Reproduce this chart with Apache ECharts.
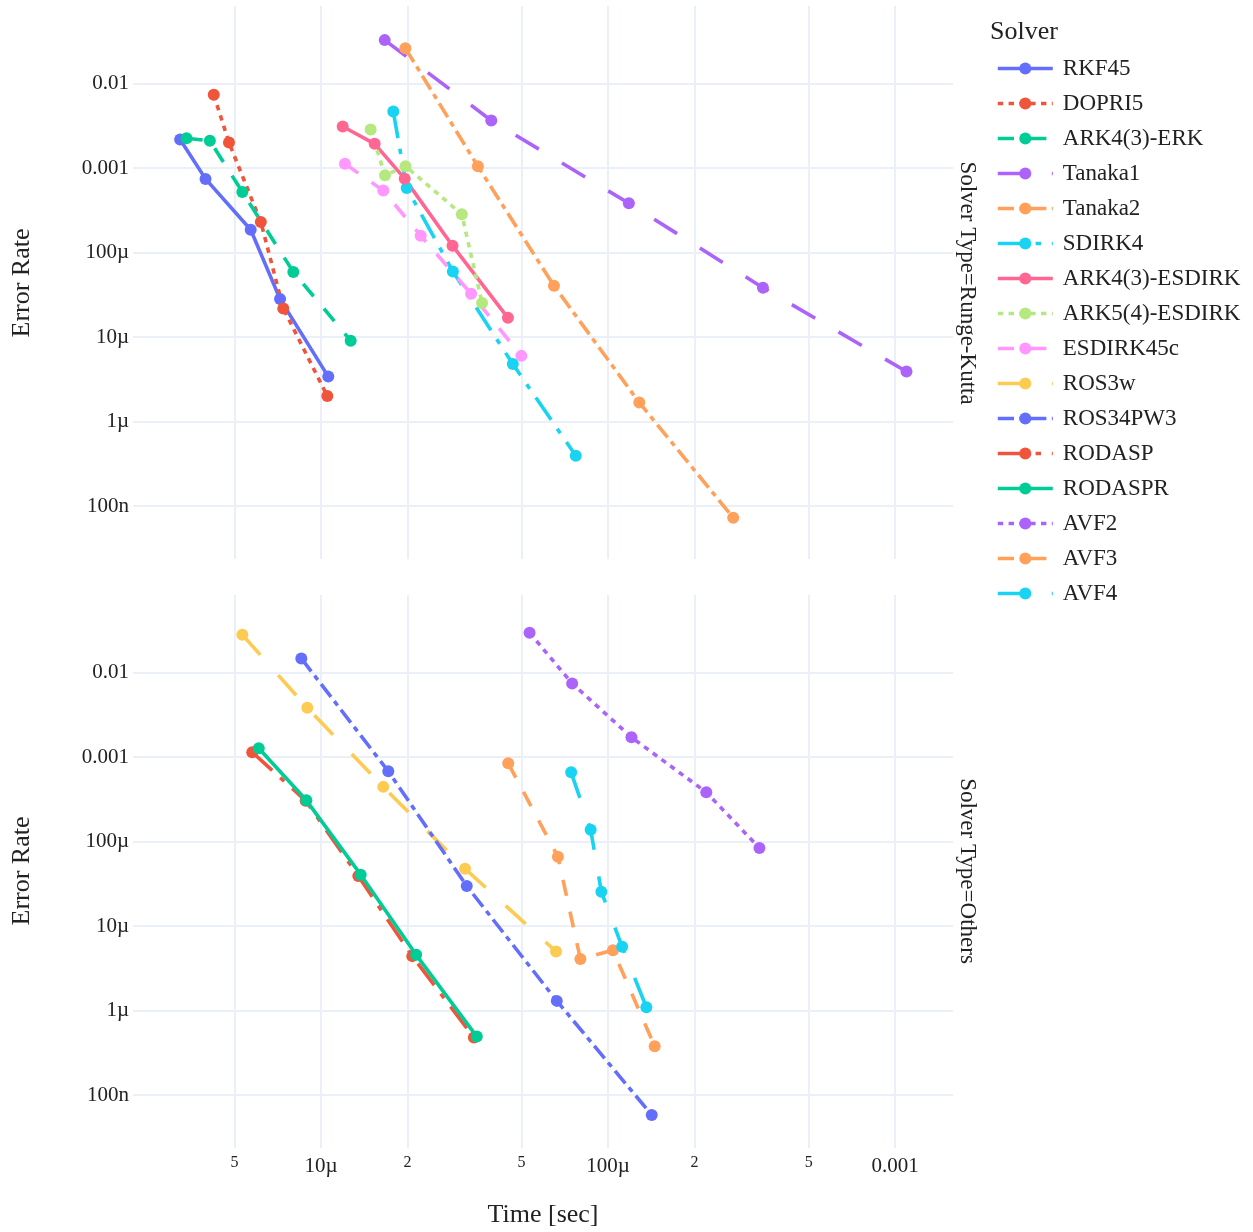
<!DOCTYPE html>
<html><head><meta charset="utf-8">
<script src="https://cdn.jsdelivr.net/npm/echarts@6/dist/echarts.min.js"></script>
<style>html,body{margin:0;padding:0;background:#fff}#c{width:1253px;height:1232px}</style>
</head><body><div id="c"></div>
<script>
// ---------- data ----------
const solverNames = ['RKF45','DOPRI5','ARK4(3)-ERK','Tanaka1','Tanaka2','SDIRK4','ARK4(3)-ESDIRK','ARK5(4)-ESDIRK','ESDIRK45c','ROS3w','ROS34PW3','RODASP','RODASPR','AVF2','AVF3','AVF4'];
const solverPanel = [0,0,0,0,0,0,0,0,0,1,1,1,1,1,1,1]; // 0 = Runge-Kutta, 1 = Others
const panelTitles = ['Solver Type=Runge-Kutta','Solver Type=Others'];

// [time (sec), error rate]
const RKF45 = [[3.23e-6,2.17e-3],[3.96e-6,7.43e-4],[5.69e-6,1.86e-4],[7.20e-6,2.81e-5],[1.06e-5,3.40e-6]];
const DOPRI5 = [[4.23e-6,7.34e-3],[4.78e-6,2.00e-3],[6.17e-6,2.30e-4],[7.39e-6,2.18e-5],[1.052e-5,2.0e-6]];
const ARK43ERK = [[3.40e-6,2.25e-3],[4.10e-6,2.10e-3],[5.32e-6,5.21e-4],[8.01e-6,5.88e-5],[1.269e-5,9.02e-6]];
const Tanaka1 = [[1.667e-5,3.26e-2],[3.92e-5,3.65e-3],[1.182e-4,3.82e-4],[3.465e-4,3.83e-5],[1.096e-3,3.90e-6]];
const Tanaka2 = [[1.967e-5,2.62e-2],[3.52e-5,1.047e-3],[6.48e-5,4.04e-5],[1.285e-4,1.675e-6],[2.73e-4,7.26e-8]];
const SDIRK4 = [[1.786e-5,4.66e-3],[1.989e-5,5.81e-4],[2.88e-5,5.97e-5],[4.66e-5,4.78e-6],[7.72e-5,3.94e-7]];
const ARK43ESDIRK = [[1.19e-5,3.10e-3],[1.538e-5,1.93e-3],[1.957e-5,7.48e-4],[2.872e-5,1.204e-4],[4.48e-5,1.687e-5]];
const ARK54ESDIRK = [[1.489e-5,2.85e-3],[1.671e-5,8.19e-4],[1.97e-5,1.047e-3],[3.094e-5,2.83e-4],[3.64e-5,2.52e-5]];
const ESDIRK45c = [[1.212e-5,1.12e-3],[1.648e-5,5.40e-4],[2.225e-5,1.58e-4],[3.334e-5,3.25e-5],[4.99e-5,5.98e-6]];
const ROS3w = [[5.32e-6,2.797e-2],[8.96e-6,3.82e-3],[1.648e-5,4.43e-4],[3.175e-5,4.77e-5],[6.59e-5,4.99e-6]];
const ROS34PW3 = [[8.54e-6,1.466e-2],[1.716e-5,6.78e-4],[3.22e-5,2.97e-5],[6.63e-5,1.30e-6],[1.42e-4,5.80e-8]];
const RODASP = [[5.76e-6,1.138e-3],[8.84e-6,3.04e-4],[1.349e-5,3.90e-5],[2.08e-5,4.40e-6],[3.41e-5,4.78e-7]];
const RODASPR = [[6.07e-6,1.268e-3],[8.89e-6,3.07e-4],[1.375e-5,4.05e-5],[2.145e-5,4.56e-6],[3.49e-5,4.91e-7]];
const AVF2 = [[5.33e-5,2.953e-2],[7.50e-5,7.41e-3],[1.207e-4,1.71e-3],[2.20e-4,3.82e-4],[3.37e-4,8.37e-5]];
const AVF3 = [[4.49e-5,8.42e-4],[6.69e-5,6.61e-5],[8.01e-5,4.08e-6],[1.04e-4,5.18e-6],[1.454e-4,3.78e-7]];
const AVF4 = [[7.44e-5,6.59e-4],[8.70e-5,1.38e-4],[9.48e-5,2.54e-5],[1.12e-4,5.68e-6],[1.36e-4,1.094e-6]];
const solverData = [RKF45,DOPRI5,ARK43ERK,Tanaka1,Tanaka2,SDIRK4,ARK43ESDIRK,ARK54ESDIRK,ESDIRK45c,ROS3w,ROS34PW3,RODASP,RODASPR,AVF2,AVF3,AVF4];

// tick labels
const xTickValues = [5e-6,1e-5,2e-5,5e-5,1e-4,2e-4,5e-4,1e-3];
const xTickLabels = ['5','10µ','2','5','100µ','2','5','0.001'];
const xTickMajor = [false,true,false,false,true,false,false,true];
const yTickValues = [1e-7,1e-6,1e-5,1e-4,1e-3,1e-2];
const yTickLabels = ['100n','1µ','10µ','100µ','0.001','0.01'];
const xRange = [2.213e-6, 1.592e-3];
const yRange = [2.36e-8, 8.26e-2];

// ---------- styles ----------
const colors = ['#636EFA','#EF553B','#00CC96','#AB63FA','#FFA15A','#19D3F3','#FF6692','#B6E880','#FF97FF','#FECB52','#636EFA','#EF553B','#00CC96','#AB63FA','#FFA15A','#19D3F3'];
const dashNames = ['solid','dot','dash','longdash','dashdot','longdashdot','solid','dot','dash','longdash','dashdot','longdashdot','solid','dot','dash','longdash'];
const d = 5.4;
const dashMap = {solid:'solid', dot:[d,d], dash:[3*d,3*d], longdash:[5*d,5*d], dashdot:[3*d,d,d,d], longdashdot:[5*d,2*d,d,2*d]};
const FONT = '"Liberation Serif", "Times New Roman", serif';
const TXT = '#222';
const GRIDC = '#EBF0F8';

const lg = Math.log10;
const xTickLog = xTickValues.map(lg);
const yTickLog = yTickValues.map(lg);
function findIdx(arr, v){ for (let i=0;i<arr.length;i++){ if (Math.abs(arr[i]-v) < 1e-6) return i; } return -1; }

const grids = [
  {left:133, width:820, top:6, height:553},
  {left:133, width:820, top:595, height:553}
];
const xAxes = [0,1].map(g => ({
  gridIndex:g, type:'value', min:lg(xRange[0]), max:lg(xRange[1]),
  axisLine:{show:false},
  axisTick:{show:false, customValues:xTickLog},
  splitLine:{show:true, lineStyle:{color:GRIDC, width:2}},
  axisLabel:{show:g===1, customValues:xTickLog, margin:7,
    formatter: v => { const i = findIdx(xTickLog, v); if (i<0) return ''; return xTickMajor[i] ? '{a|'+xTickLabels[i]+'}' : '{b|'+xTickLabels[i]+'}'; },
    rich:{a:{fontFamily:FONT, fontSize:21, lineHeight:22, color:TXT}, b:{fontFamily:FONT, fontSize:16, lineHeight:15, color:TXT}}
  }
}));
const yAxes = [0,1].map(g => ({
  gridIndex:g, type:'value', min:lg(yRange[0]), max:lg(yRange[1]),
  axisLine:{show:false},
  axisTick:{show:false, customValues:yTickLog},
  splitLine:{show:true, lineStyle:{color:GRIDC, width:2}},
  axisLabel:{show:true, customValues:yTickLog, margin:4, fontFamily:FONT, fontSize:21, color:TXT,
    formatter: v => { const i = findIdx(yTickLog, v); return i<0 ? '' : yTickLabels[i]; }
  }
}));

const series = solverNames.map((name, i) => ({
  name, type:'line', xAxisIndex:solverPanel[i], yAxisIndex:solverPanel[i],
  data: solverData[i].map(p => [lg(p[0]), lg(p[1])]),
  symbol:'circle', symbolSize:12, showSymbol:true,
  color: colors[i],
  itemStyle:{color:colors[i]},
  lineStyle:{color:colors[i], width:3.6, type:dashMap[dashNames[i]]},
  emphasis:{disabled:true},
  clip:false
}));

function gtext(text, x, y, size, rot){
  return {type:'text', x, y, rotation:rot||0, silent:true,
    style:{text, fontFamily:FONT, fontSize:size, fill:TXT, align:'center', verticalAlign:'middle', textAlign:'center', textVerticalAlign:'middle'}};
}

const option = {
  animation:false,
  backgroundColor:'#fff',
  grid:grids, xAxis:xAxes, yAxis:yAxes, series,
  legend:{
    orient:'vertical', left:996, top:57, padding:0, itemWidth:55, itemHeight:15, itemGap:12,
    selectedMode:false, data:solverNames,
    lineStyle:{width:'inherit'},
    textStyle:{fontFamily:FONT, fontSize:23, color:TXT, lineHeight:22, padding:[0,0,0,5]}
  },
  graphic:[
    gtext('Error Rate', 22, 283, 26, Math.PI/2),
    gtext('Error Rate', 22, 871, 26, Math.PI/2),
    gtext(panelTitles[0], 967, 283, 23, -Math.PI/2),
    gtext(panelTitles[1], 967, 871, 23, -Math.PI/2),
    gtext('Time [sec]', 543, 1215, 26, 0),
    {type:'text', x:990, y:32, silent:true, style:{text:'Solver', fontFamily:FONT, fontSize:26, fill:TXT, align:'left', verticalAlign:'middle', textAlign:'left', textVerticalAlign:'middle'}}
  ]
};
const chart = echarts.init(document.getElementById('c'), null, {renderer:'canvas'});
chart.setOption(option);
</script>
</body></html>
